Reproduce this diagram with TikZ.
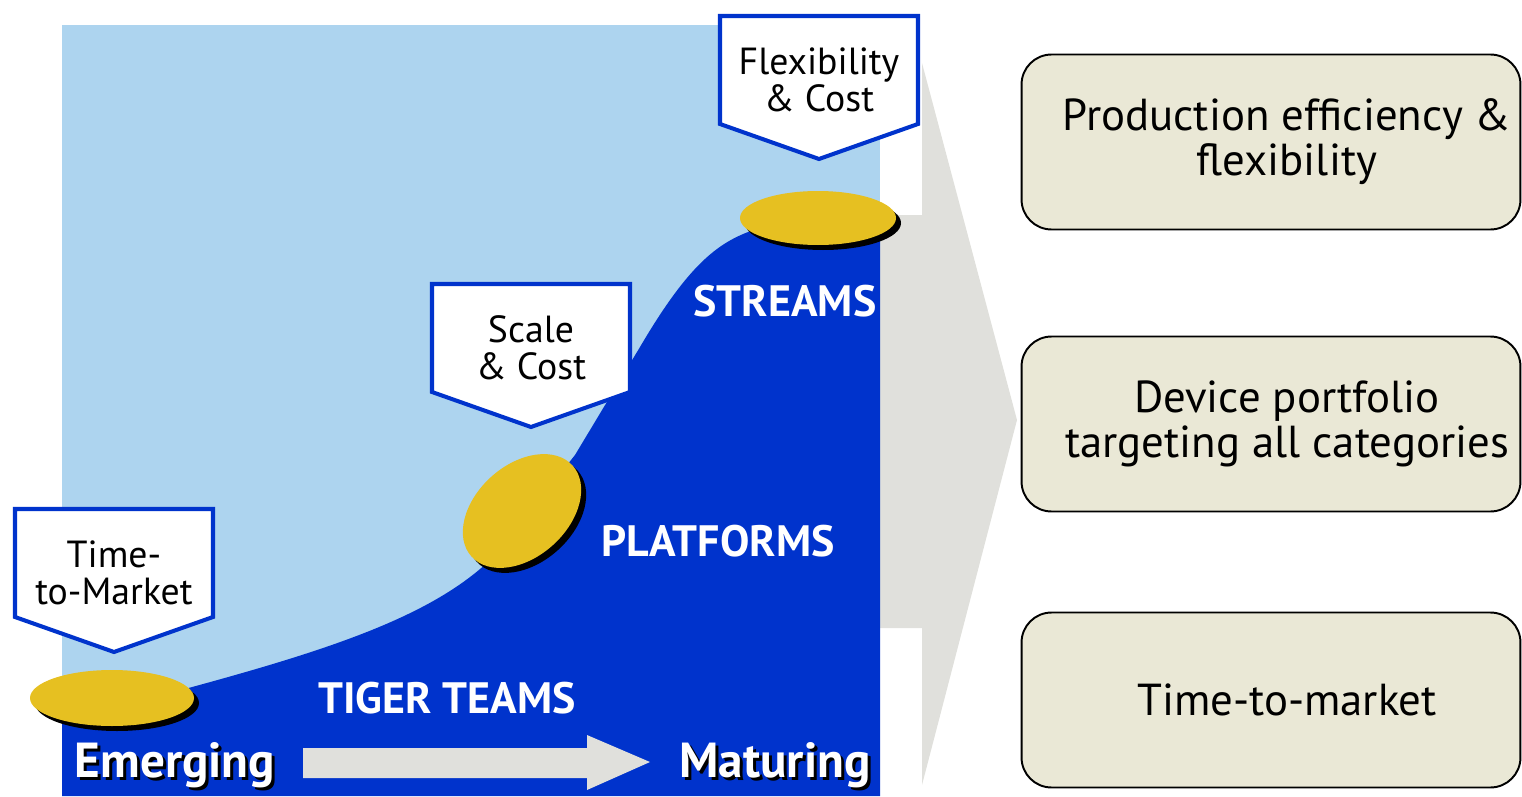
\documentclass[tikz,border=0pt]{standalone}
\usepackage{fontspec}
\setmainfont{PT Sans}
\usetikzlibrary{calc}
\definecolor{deepblue}{RGB}{0,51,204}
\definecolor{skyblue}{RGB}{173,212,239}
\definecolor{discgold}{RGB}{230,192,33}
\definecolor{arrowgray}{RGB}{224,224,220}
\definecolor{boxbeige}{RGB}{234,232,214}
\tikzset{
    calloutline/.style={draw=deepblue, line width=2.3pt, fill=white, line join=miter},
    callouttext/.style={align=center, inner sep=0pt, font=\fontsize{21.5}{21}\selectfont},
    stagelabel/.style={text=white, anchor=base, inner sep=0pt, font=\fontsize{25}{26}\selectfont\bfseries},
    phaselabel/.style={text=white, anchor=base, inner sep=0pt, font=\fontsize{28}{28}\selectfont\bfseries},
    goalbox/.style={draw=black, line width=1.1pt, fill=boxbeige, rounded corners=0.6cm,
        minimum width=9.98cm, minimum height=3.5cm, inner sep=0pt},
    goaltext/.style={align=center, inner sep=0pt, font=\fontsize{25.5}{25.6}\selectfont}
}
% pentagon callout: left x, top y, name, text
\newcommand{\drawcallout}[4]{
    \draw[calloutline] (#1, #2) -- ++(198, 0) -- ++(0, -108) -- ++(-99, -35) -- ++(-99, 35) -- cycle;
    \node[callouttext] (#3) at (#1+99, #2-64) {#4};
}
% disc with shadow: x, y, x radius, y radius, angle
\newcommand{\drawdisc}[5]{
    \begin{scope}[shift={(#1, #2)}]
        \fill[black, shift={(5, -5)}, rotate=#5] (0, 0) ellipse (#3 and #4);
        \fill[discgold, rotate=#5] (0, 0) ellipse (#3 and #4);
    \end{scope}
}

\begin{document}
\begin{tikzpicture}[x=0.02cm, y=0.02cm]
        \clip (0, 0) rectangle (1522, 796);
        \useasboundingbox (0, 0) rectangle (1522, 796);

        % Draw big arrow
        \fill[arrowgray] (870, 581) -- (922, 581) -- (922, 733) -- (1017, 376)
            -- (922, 11) -- (922, 168) -- (870, 168) -- cycle;

        % Draw background
        \fill[skyblue] (62, 0) rectangle (880, 771);
        \fill[deepblue] (62, 0) -- (62, 96) -- (170, 103)
            .. controls (330, 146) and (440, 181) .. (500, 246)
            -- (575, 341) -- (640, 449)
            .. controls (690, 534) and (720, 556) .. (760, 568)
            -- (860, 581) -- (880, 581) -- (880, 0) -- cycle;

        % Draw discs
        \drawdisc{112}{98}{82}{28}{0}
        \drawdisc{522}{285}{68}{46}{42}
        \drawdisc{818}{578}{78}{27}{0}

        % Draw callouts
        \drawcallout{15}{287}{timecallout}{Time-\\to-Market}
        \drawcallout{432}{512}{scalecallout}{Scale\\\& Cost}
        \drawcallout{720}{780}{flexcallout}{Flexibility\\\& Cost}

        % Draw stage labels
        \node[stagelabel] (streams) at (785, 480) {STREAMS};
        \node[stagelabel] (platforms) at (718, 240) {PLATFORMS};
        \node[stagelabel] (tigerteams) at (447, 83) {TIGER TEAMS};

        % Draw timeline
        \fill[arrowgray] (303, 48) -- (587, 48) -- (587, 61) -- (650, 34)
            -- (587, 6) -- (587, 18) -- (303, 18) -- cycle;
        \node[phaselabel, text=black] (emergingshadow) at (178, 16) {Emerging};
        \node[phaselabel] (emerging) at (175, 19) {Emerging};
        \node[phaselabel, text=black] (maturingshadow) at (778, 16) {Maturing};
        \node[phaselabel] (maturing) at (775, 19) {Maturing};

        % Draw goal boxes
        \node[goalbox] (prodbox) at (1271, 654) {};
        \node[goalbox] (devicebox) at (1271, 372) {};
        \node[goalbox] (ttmbox) at (1271, 96) {};
        \node[goaltext] (prodtext) at ($(prodbox.center)+(16, 0)$) {Production efficiency \&\\flexibility};
        \node[goaltext] (devicetext) at ($(devicebox.center)+(16, 0)$) {Device portfolio\\targeting all categories};
        \node[goaltext] (ttmtext) at ($(ttmbox.center)+(16, 0)$) {Time-to-market};
    \end{tikzpicture}
\end{document}
